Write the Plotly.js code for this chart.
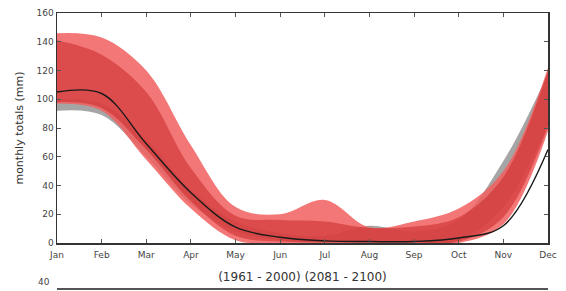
<!DOCTYPE html>
<html>
<head>
<meta charset="utf-8">
<script src="https://cdn.plot.ly/plotly-3.0.1.min.js"></script>
<style>html,body{margin:0;padding:0;background:#fff;}#chart{width:566px;height:291px;}</style>
</head>
<body>
<div id="chart"></div>
<script>
const months = ["Jan","Feb","Mar","Apr","May","Jun","Jul","Aug","Sep","Oct","Nov","Dec"];
// historical (1961-2000) range and mean
const histUpper = [100, 97, 72, 37, 15, 7, 5, 12, 8, 16, 57, 118];
const histLower = [92, 89, 60, 27, 8, 2, 0, 0, 0, 2, 25, 82];
const histMean  = [105, 104, 69, 35, 11, 4, 1.5, 1, 1, 3.5, 12, 65];
// future (2081-2100) outer range
const futOuterUpper = [146, 143, 120, 68, 25, 20, 30, 11, 15, 24, 50, 122];
const futOuterLower = [97, 92, 58, 24, 2, 0, 0, 0, 0, 0, 13, 78];
// future inner range
const futInnerUpper = [141, 131, 105, 52, 19, 16, 15, 10.5, 11.5, 18, 46, 120];
const futInnerLower = [98, 94, 65, 29, 5, 1, 0.5, 0.5, 0.5, 1, 18, 81];
const yTicks = [0, 20, 40, 60, 80, 100, 120, 140, 160];

function band(upper, lower, color) {
  return [
    {x: months, y: lower, type: 'scatter', mode: 'lines', line: {width: 0, shape: 'spline', smoothing: 1}, hoverinfo: 'skip', showlegend: false},
    {x: months, y: upper, type: 'scatter', mode: 'lines', line: {width: 0, shape: 'spline', smoothing: 1}, fill: 'tonexty', fillcolor: color, hoverinfo: 'skip', showlegend: false}
  ];
}

const traces = [
  ...band(histUpper, histLower, 'rgb(165,165,165)'),
  ...band(futOuterUpper, futOuterLower, 'rgba(242,95,95,0.85)'),
  ...band(futInnerUpper, futInnerLower, 'rgba(197,33,33,0.5)'),
  {x: months, y: histMean, type: 'scatter', mode: 'lines', line: {color: '#1a1a1a', width: 1.4, shape: 'spline', smoothing: 1}, showlegend: false}
];

const tickFont = {family: 'DejaVu Sans, sans-serif', size: 9, color: '#444'};
const layout = {
  width: 566, height: 291,
  margin: {l: 57, r: 18, t: 13, b: 48},
  paper_bgcolor: '#fff', plot_bgcolor: '#fff',
  showlegend: false,
  xaxis: {
    type: 'category', range: [0, 11], showgrid: false, zeroline: false,
    showline: true, linecolor: '#333', linewidth: 1.5, mirror: 'ticks',
    ticks: 'inside', ticklen: 4, tickcolor: '#555', ticklabelstandoff: 3,
    tickfont: tickFont,
    title: {text: '(1961 - 2000) (2081 - 2100)', font: {family: 'DejaVu Sans, sans-serif', size: 12, color: '#333'}, standoff: 13}
  },
  yaxis: {
    range: [0, 160], tickvals: yTicks, showgrid: false, zeroline: false,
    showline: true, linecolor: '#333', linewidth: 1.5, mirror: 'ticks',
    ticks: 'inside', ticklen: 4, tickcolor: '#555',
    tickfont: tickFont,
    title: {text: 'monthly totals (mm)', font: {family: 'DejaVu Sans, sans-serif', size: 11, color: '#333'}, standoff: 10}
  },
  shapes: [
    {type: 'line', xref: 'paper', yref: 'paper', x0: 0, x1: 1, y0: -0.2, y1: -0.2, line: {color: '#555', width: 2}}
  ],
  annotations: [
    {xref: 'paper', yref: 'paper', x: -0.012, y: -0.197, xanchor: 'right', yanchor: 'bottom', text: '40', showarrow: false, borderpad: 0, font: tickFont}
  ]
};

Plotly.newPlot('chart', traces, layout, {displayModeBar: false, staticPlot: true});
</script>
</body>
</html>
